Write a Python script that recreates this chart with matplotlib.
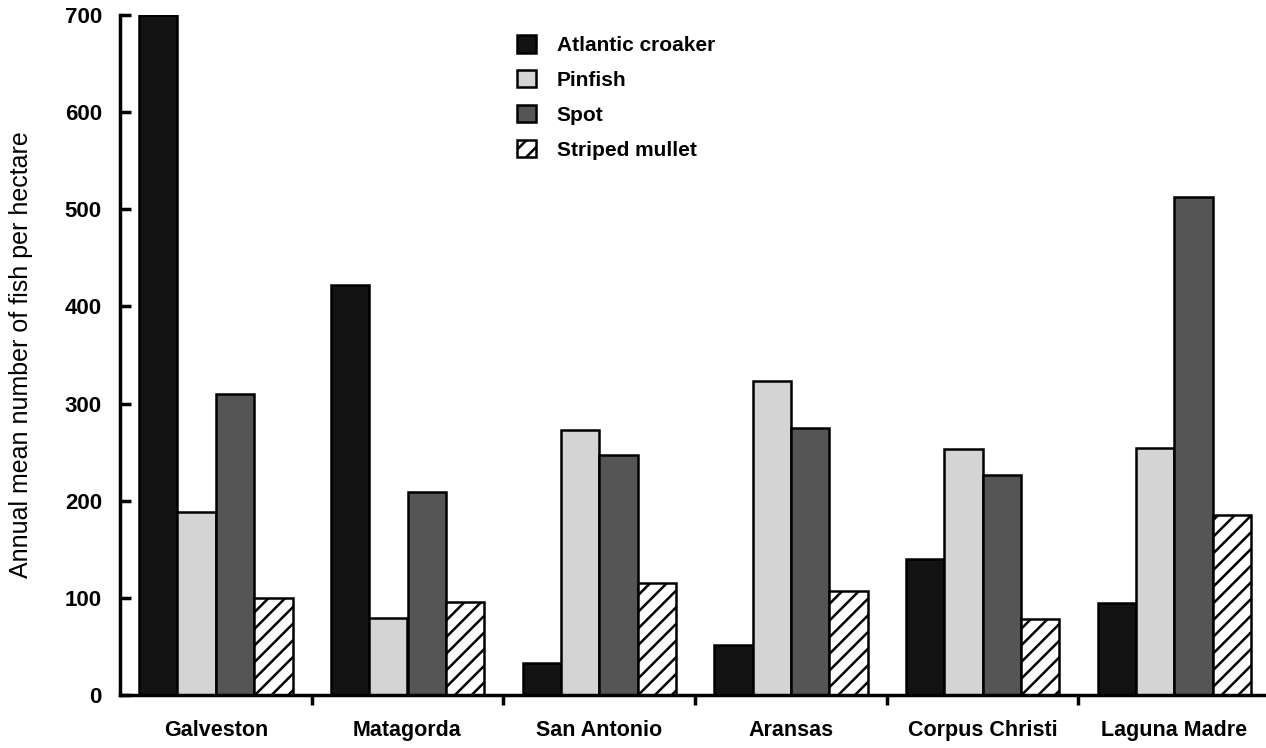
import matplotlib
matplotlib.use("Agg")
import matplotlib.pyplot as plt
import numpy as np

bays = ["Galveston", "Matagorda", "San Antonio", "Aransas", "Corpus Christi", "Laguna Madre"]
species = ["Atlantic croaker", "Pinfish", "Spot", "Striped mullet"]
croaker = [700, 422, 33, 51, 140, 95]
pinfish = [188, 79, 273, 323, 253, 254]
spot = [310, 209, 247, 275, 226, 513]
mullet = [100, 96, 115, 107, 78, 185]
yticks = [0, 100, 200, 300, 400, 500, 600, 700]

series = [croaker, pinfish, spot, mullet]
faces = ["#121212", "#d4d4d4", "#555555", "white"]
hatches = [None, None, None, "//"]

plt.rcParams['font.family'] = ['Liberation Sans', 'DejaVu Sans']
plt.rcParams['hatch.linewidth'] = 1.8

fig = plt.figure(figsize=(12.66, 7.48), dpi=100)
ax = fig.add_axes([120/1266, 53/748, 1150/1266, 680/748])

x = np.arange(len(bays))
w = 0.2
for k, (vals, fc, h) in enumerate(zip(series, faces, hatches)):
    ax.bar(x + (k - 1.5) * w, vals, width=w, color=fc, edgecolor="black",
           linewidth=1.8, hatch=h, label=species[k], zorder=2)

ax.set_xlim(-0.5, 5.5)
ax.set_ylim(0, 700)
ax.set_yticks(yticks)
ax.set_yticklabels([str(t) for t in yticks], fontsize=16, fontweight='bold')
ax.tick_params(axis='y', direction='in', length=8, width=2.5, pad=13)

ax.set_xticks(x)
ax.set_xticklabels(bays, fontsize=15.5, fontweight='bold')
ax.tick_params(axis='x', length=0, pad=18)
ax.set_xticks(np.arange(0.5, 5.5, 1), minor=True)
ax.tick_params(axis='x', which='minor', direction='out', length=7, width=2.5)

for s in ['top', 'right']:
    ax.spines[s].set_visible(False)
for s in ['left', 'bottom']:
    ax.spines[s].set_linewidth(2.5)

ax.set_ylabel("Annual mean number of fish per hectare", fontsize=18)
ax.yaxis.set_label_coords(-0.0757, 0.5)

leg = ax.legend(loc='upper left', bbox_to_anchor=(509/1266, 1 - 27/748),
                bbox_transform=fig.transFigure, frameon=False,
                prop={'weight': 'bold', 'size': 15},
                handlelength=0.9, handleheight=0.9, handletextpad=1.0,
                labelspacing=0.72, borderaxespad=0)

fig.savefig("out.png", dpi=100)
